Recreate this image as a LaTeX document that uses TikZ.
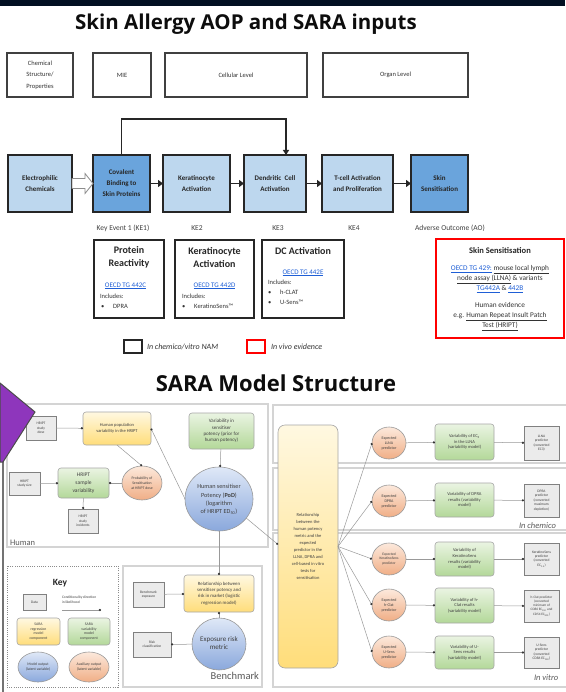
\documentclass[tikz,border=0pt]{standalone}
\usepackage{fontspec}
\setmainfont{Carlito}
\newfontfamily\headfont{Open Sans}
\usetikzlibrary{arrows.meta,calc,shapes.geometric}

\definecolor{navy}{HTML}{020F22}
\definecolor{aopl}{HTML}{BDD7EE}
\definecolor{aopd}{HTML}{6AA4DC}
\definecolor{linkb}{HTML}{1F5FD6}
\definecolor{purp}{HTML}{8E36BC}
\definecolor{yelA}{HTML}{FFF8E1}
\definecolor{yelB}{HTML}{FFDD7A}
\definecolor{grnA}{HTML}{EAF4E2}
\definecolor{grnB}{HTML}{B3D899}
\definecolor{bluA}{HTML}{DFE8F7}
\definecolor{bluB}{HTML}{8AA8DC}
\definecolor{orgA}{HTML}{FCE9DC}
\definecolor{orgB}{HTML}{F0AE86}

\newcommand{\setfs}[2]{\fontsize{#1}{#2}\selectfont}

\tikzset{
  every node/.style={inner sep=0pt, outer sep=0pt},
  heading/.style={font=\headfont\bfseries\setfs{20.5}{24}, text=black!95, anchor=base},
  hdr/.style={draw=black!75, line width=1.1pt, fill=white, minimum height=44,
    align=center, font=\setfs{6.5}{11.5}, text=black!80},
  aopbox/.style={draw=black!85, line width=1.2pt, minimum height=57,
    align=center, font=\bfseries\setfs{7}{11}, text=black!85},
  aopflow/.style={-{Triangle[length=5pt,width=7pt]}, line width=1.8pt, draw=black!85},
  kelbl/.style={font=\setfs{7.5}{9}, text=black!75, anchor=base},
  nambox/.style={draw=black!85, line width=1.5pt, minimum height=78},
  bxttl/.style={font=\bfseries\setfs{10}{13}, align=center, text=black!85},
  lnk/.style={font=\setfs{7}{9}, text=linkb},
  bxtxt/.style={font=\setfs{6.5}{9}, text=black!80, anchor=west},
  sstxt/.style={font=\setfs{7.3}{10}, align=center, text=black!80},
  legtxt/.style={font=\itshape\setfs{8}{9}, text=black!80, anchor=west},
  panel/.style={draw=black!17, line width=1.2pt},
  sdata/.style={draw=black!50, line width=0.6pt, fill=black!8, align=center,
    font=\setfs{3.6}{4.4}, text=black!75},
  syel/.style={draw=black!35, line width=0.6pt, rounded corners=3pt,
    top color=yelA, bottom color=yelB, align=center, font=\setfs{4.5}{5.6}, text=black!75},
  sgrn/.style={draw=black!35, line width=0.6pt, rounded corners=3pt,
    top color=grnA, bottom color=grnB, align=center, font=\setfs{4.5}{5.6}, text=black!75},
  sblue/.style={ellipse, draw=black!40, line width=0.6pt, top color=bluA, bottom color=bluB},
  sorg/.style={ellipse, draw=black!40, line width=0.6pt, top color=orgA, bottom color=orgB},
  stxt/.style={align=center, text=black!75, font=\setfs{4}{5}},
  lk/.style={draw=black!40, line width=0.5pt, -{Circle[length=2.2pt, color=black!80]}},
  plbl/.style={text=black!65, font=\setfs{8.5}{10}},
}

\begin{document}
\begin{tikzpicture}[x=1pt, y=-1pt]
\useasboundingbox (0,0) rectangle (565,692);
\fill[white] (0,0) rectangle (565,692);
\fill[navy] (0,0) rectangle (565,6.5);

% ---------- AOP part ----------
\node[heading] (title1) at (246,30) {Skin Allergy AOP and SARA inputs};

\node[hdr, minimum width=66] (hchem) at (40,75) {Chemical\\Structure/\\Properties};
\node[hdr, minimum width=58] (hmie) at (122,75) {MIE};
\node[hdr, minimum width=142] (hcell) at (236,75) {Cellular Level};
\node[hdr, minimum width=145] (horg) at (395.5,75) {Organ Level};

\node[aopbox, fill=aopl, minimum width=64] (elec) at (40,183.5) {Electrophilic\\Chemicals};
\node[aopbox, fill=aopd, minimum width=57] (cov) at (121.5,183.5) {Covalent\\Binding to\\Skin Proteins};
\node[aopbox, fill=aopl, minimum width=67] (ker) at (196.5,183.5) {Keratinocyte\\Activation};
\node[aopbox, fill=aopl, minimum width=62] (den) at (275,183.5) {Dendritic~~Cell\\Activation};
\node[aopbox, fill=aopl, minimum width=71] (tcell) at (357.5,183.5) {T-cell Activation\\and Proliferation};
\node[aopbox, fill=aopd, minimum width=57] (skin) at (439.5,183.5) {Skin\\Sensitisation};

% hollow arrow from the chemicals to the MIE
\draw[draw=black!45, fill=white, line width=0.8pt]
  ($(elec.east)+(0,-5)$) -- ($(elec.east)+(13,-5)$) -- ($(elec.east)+(13,-10)$)
  -- (cov.west) -- ($(elec.east)+(13,10)$) -- ($(elec.east)+(13,5)$)
  -- ($(elec.east)+(0,5)$) -- cycle;
\draw[aopflow] (cov) -- (ker);
\draw[aopflow] (ker) -- (den);
\draw[aopflow] (den) -- (tcell);
\draw[aopflow] (tcell) -- (skin);
\draw[line width=1.3pt, draw=black!85, -{Triangle[length=5pt,width=6pt]}]
  (cov.north) -- ++(0,-36) -| ($(den.north)+(11,0)$);

\node[kelbl] (ke1) at (123,231) {Key Event 1 (KE1)};
\node[kelbl] (ke2) at (197,231) {KE2};
\node[kelbl] (ke3) at (278,231) {KE3};
\node[kelbl] (ke4) at (354,231) {KE4};
\node[kelbl] (ao) at (450,231) {Adverse Outcome (AO)};

% NAM boxes
\node[nambox, minimum width=70] (prot) at (129,279) {};
\node[bxttl] (protT) at (129,257.5) {Protein\\Reactivity};
\node[lnk] (protL) at (125.5,286) {\underline{OECD TG 442C}};
\node[bxtxt] (protI) at (100,296) {Includes:};
\node[bxtxt] (protB) at (101,306) {\textbullet\hspace{9pt}DPRA};

\node[nambox, minimum width=79] (kerb) at (214.5,279) {};
\node[bxttl] (kerT) at (214.5,257.5) {Keratinocyte\\Activation};
\node[lnk] (kerL) at (214.5,286) {\underline{OECD TG 442D}};
\node[bxtxt] (kerI) at (182,296) {Includes:};
\node[bxtxt] (kerB) at (182,306) {\textbullet\hspace{9pt}KeratinoSens™};

\node[nambox, minimum width=82] (dcb) at (303,279) {};
\node[bxttl] (dcT) at (303,251) {DC Activation};
\node[lnk] (dcL) at (303,273) {\underline{OECD TG 442E}};
\node[bxtxt] (dcI) at (268,282) {Includes:};
\node[bxtxt] (dcB1) at (268,292) {\textbullet\hspace{9pt}h-CLAT};
\node[bxtxt] (dcB2) at (268,302) {\textbullet\hspace{9pt}U-Sens™};

% in vivo evidence box
\node[draw=red, line width=1.3pt, minimum width=128, minimum height=99] (ssb) at (500,288.5) {};
\node[font=\bfseries\setfs{8.5}{10}, text=black!85] (ssT) at (500,251) {Skin Sensitisation};
\node[sstxt] (ssA) at (500,279) {\textcolor{linkb}{\underline{OECD TG 429:}} \underline{mouse local lymph}\\
  \underline{node assay (LLNA)} \& variants\\
  \textcolor{linkb}{\underline{TG442A}} \& \textcolor{linkb}{\underline{442B}}};
\node[sstxt] (ssB) at (500,316.5) {Human evidence\\
  e.g. \underline{Human Repeat Insult Patch}\\ \underline{Test (HRIPT)}};

% legend
\node[draw=black!85, line width=1.5pt, minimum width=18, minimum height=13] (legN) at (133,346.5) {};
\node[legtxt] (legNt) at (147,346.5) {In chemico/vitro NAM};
\node[draw=red, line width=1.3pt, minimum width=18, minimum height=13] (legV) at (256,346.5) {};
\node[legtxt] (legVt) at (271,346.5) {In vivo evidence};

% ---------- SARA part ----------
\node[heading, font=\headfont\bfseries\setfs{22}{24}] (title2) at (276,391) {SARA Model Structure};

% panels
\draw[panel] (7,404) rectangle (268,547);
\draw[panel] (273,405) rectangle (570,463);
\draw[panel] (273,468) rectangle (570,530);
\draw[panel] (273,533) rectangle (570,687);
\draw[draw=black!45, line width=1pt, dash pattern=on 1pt off 1.2pt] (7,566) rectangle (118,687);
\draw[panel] (123,566) rectangle (262,687);

% human panel
\node[sdata, minimum width=30, minimum height=24] (dose) at (41,428) {HRIPT\\study\\dose};
\node[syel, minimum width=68, minimum height=33] (hpop) at (117,428.5) {Human population\\variability in the HRIPT};
\node[sgrn, minimum width=65, minimum height=36, font=\setfs{5}{6.3}] (vprior) at (221.5,431) {Variability in\\sensitiser\\potency (prior for\\human potency)};
\node[sblue, minimum width=68, minimum height=64] (pod) at (219,499) {};
\node[stxt, font=\setfs{6.2}{8.2}] (podT) at (219,499.5) {Human sensitiser\\Potency (\textbf{PoD})\\(logarithm\\of HRIPT ED\textsubscript{50})};
\node[sorg, minimum width=40, minimum height=34] (prob) at (142,483) {};
\node[stxt, font=\setfs{3.8}{4.8}] (probT) at (142,483) {Probability of\\Sensitisation\\at HRIPT dose};
\node[sgrn, minimum width=51, minimum height=30, font=\setfs{5.5}{8}] (samp) at (83.5,483) {HRIPT\\sample\\variability};
\node[sdata, minimum width=31, minimum height=23] (ssize) at (24.5,483.5) {HRIPT\\study size};
\node[sdata, minimum width=30, minimum height=24] (inc) at (83,521) {HRIPT\\study\\incidents};
\node[plbl, anchor=base west] (humL) at (10,545) {Human};

\draw[lk] (dose) -- (hpop);
\draw[lk] (pod.west) -- (hpop.east);
\draw[lk] (hpop.south) -- (prob.north);
\draw[lk] (prob) -- (samp);
\draw[lk] (ssize) -- (samp);
\draw[lk] (samp) -- (inc);
\draw[lk] (vprior) -- (pod);

% relationship to the expected predictors
\node[syel, minimum width=60, minimum height=243, rounded corners=7pt, font=\setfs{4.5}{7}] (rel) at (308,546.5)
  {Relationship\\between the\\human potency\\metric and the\\expected\\predictor in the\\LLNA, DPRA and\\cell-based in vitro\\tests for\\sensitisation};
\draw[lk] (pod.-35) -- ($(rel.west)+(0,-2)$);

% expected predictors
\node[sorg, minimum width=34, minimum height=32] (ellna) at (389,443) {};
\node[stxt] (ellnaT) at (389,443) {Expected\\LLNA\\predictor};
\node[sorg, minimum width=34, minimum height=32] (edpra) at (389,501) {};
\node[stxt] (edpraT) at (389,501) {Expected\\DPRA\\predictor};
\node[sorg, minimum width=34, minimum height=32] (eks) at (389,559) {};
\node[stxt, font=\setfs{3.6}{4.6}] (eksT) at (389,559) {Expected\\KeratinoSens\\predictor};
\node[sorg, minimum width=34, minimum height=32] (ehc) at (389,605) {};
\node[stxt] (ehcT) at (389,605) {Expected\\h-Clat\\predictor};
\node[sorg, minimum width=34, minimum height=32] (eus) at (389,652) {};
\node[stxt] (eusT) at (389,652) {Expected\\U-Sens\\predictor};

% variability models
\node[sgrn, minimum width=59, minimum height=36] (vllna) at (464.5,442) {Variability of EC\textsubscript{3}\\in the LLNA\\(variability model)};
\node[sgrn, minimum width=59, minimum height=34] (vdpra) at (464.5,500) {Variability of DPRA\\results (variability\\model)};
\node[sgrn, minimum width=59, minimum height=34] (vks) at (464.5,559) {Variability of\\KeratinoSens\\results (variability\\model)};
\node[sgrn, minimum width=59, minimum height=35] (vhc) at (464.5,605.5) {Variability of h-\\Clat results\\(variability model)};
\node[sgrn, minimum width=59, minimum height=33] (vus) at (464.5,652.5) {Variability of U-\\Sens results\\(variability model)};

% observed predictors
\node[sdata, minimum width=35, minimum height=34] (dllna) at (541.5,443) {LLNA\\predictor\\(converted\\EC3)};
\node[sdata, minimum width=35, minimum height=33] (ddpra) at (541.5,500.5) {DPRA\\predictor\\(converted\\maximum\\depletion)};
\node[sdata, minimum width=35, minimum height=32] (dks) at (541.5,559) {KeratinoSens\\predictor\\(converted\\EC\textsubscript{1.5})};
\node[sdata, minimum width=35, minimum height=32, font=\setfs{3.4}{4.3}] (dhc) at (541.5,606) {h-Clat predictor\\(converted\\minimum of\\CD86 EC\textsubscript{150} and\\CD54 EC\textsubscript{200})};
\node[sdata, minimum width=35, minimum height=31] (dus) at (541.5,652.5) {U-Sens\\predictor\\(converted\\CD86 EC\textsubscript{150})};

\foreach \e/\v/\d in {ellna/vllna/dllna, edpra/vdpra/ddpra, eks/vks/dks, ehc/vhc/dhc, eus/vus/dus}{
  \draw[lk] (rel.east) -- (\e.west);
  \draw[lk] (\e) -- (\v);
  \draw[lk] (\v) -- (\d);
}

\node[font=\itshape\setfs{8.5}{10}, text=black!65, anchor=base west] (chemL) at (519,528) {In chemico};
\node[font=\itshape\setfs{8.5}{10}, text=black!65, anchor=base west] (vitL) at (534,680) {In vitro};

% key
\node[font=\bfseries\setfs{9.5}{11}, text=black!85] (keyT) at (60,583) {Key};
\node[sdata, minimum width=23, minimum height=16] (kdata) at (34.5,602) {Data};
\node[stxt, font=\setfs{3.6}{5}, align=left, anchor=west] (kcond) at (62,600) {Conditionality direction\\in likelihood};
\coordinate (ka) at (62,610);
\coordinate (kb) at (101,610);
\draw[lk] (ka) -- (kb);
\node[syel, minimum width=43, minimum height=27, font=\setfs{3.8}{4.8}] (kyel) at (38.5,631.5) {SARA\\regression\\model\\component};
\node[sgrn, minimum width=42, minimum height=27, font=\setfs{3.8}{4.8}] (kgrn) at (89,631.5) {SARA\\variability\\model\\component};
\node[sblue, minimum width=40, minimum height=30] (kblu) at (38,667) {};
\node[stxt, font=\setfs{3.8}{4.8}] (kbluT) at (38,667) {Model output\\(latent variable)};
\node[sorg, minimum width=40, minimum height=30] (korg) at (89,667) {};
\node[stxt, font=\setfs{3.8}{4.8}] (korgT) at (89,667) {Auxiliary output\\(latent variable)};

% benchmark panel
\node[sdata, minimum width=31, minimum height=25] (bexp) at (148.5,594.5) {Benchmark\\exposure};
\node[syel, minimum width=70, minimum height=37, font=\setfs{4.8}{6.3}] (rrel) at (219,593.5) {Relationship between\\sensitiser potency and\\risk in market (logistic\\regression model)};
\node[sblue, minimum width=54, minimum height=52] (erm) at (219,644) {};
\node[stxt, font=\setfs{7}{8}] (ermT) at (219,643.5) {Exposure risk\\metric};
\node[sdata, minimum width=38, minimum height=25] (rcls) at (152,644.5) {Risk\\classification};
\node[plbl, font=\setfs{10.5}{12}, anchor=base east] (benchL) at (259,679) {Benchmark};

\draw[lk] (pod) -- (rrel);
\draw[lk] (bexp) -- (rrel);
\draw[lk] (erm) -- (rrel);
\draw[lk] (erm) -- (rcls);

% purple corner shape and the left edge line
\draw[black!55, line width=1.2pt] (3,460) -- (3,692);
\draw[fill=purp, draw=black!70, line width=1pt] (0,383) -- (35,412) -- (3,462) -- (0,462) -- cycle;
\end{tikzpicture}
\end{document}
